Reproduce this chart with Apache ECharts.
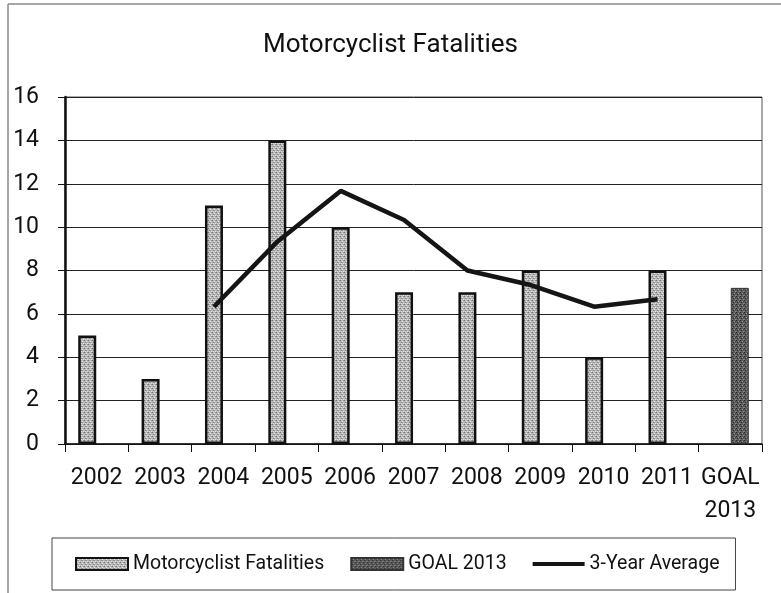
<!DOCTYPE html>
<html>
<head>
<meta charset="utf-8">
<script src="https://cdn.jsdelivr.net/npm/echarts@6/dist/echarts.min.js"></script>
<style>
html,body{margin:0;padding:0;background:#fff;}
#chart{width:781px;height:593px;}
</style>
</head>
<body>
<div id="chart"></div>
<script>
const categories = ['2002','2003','2004','2005','2006','2007','2008','2009','2010','2011','GOAL\n2013'];
const fatalities = [5,3,11,14,10,7,7,8,4,8,null];
const goal2013 = [null,null,null,null,null,null,null,null,null,null,7.2];
const threeYearAverage = [null,null,6.33,9.33,11.67,10.33,8,7.33,6.33,6.67,null];
const yMin = 0, yMax = 16, yInterval = 2;
const seriesNames = ['Motorcyclist Fatalities','GOAL 2013','3-Year Average'];

function makePattern(base, dots) {
  const c = document.createElement('canvas');
  c.width = 4; c.height = 4;
  const ctx = c.getContext('2d');
  ctx.fillStyle = base; ctx.fillRect(0,0,4,4);
  dots.forEach(d => { ctx.fillStyle = d[2]; ctx.fillRect(d[0], d[1], 1, 1); });
  return c;
}
const lightPat = makePattern('#b8b8b8', [[0,0,'#747474'],[2,1,'#ececec'],[1,2,'#858585'],[3,3,'#e2e2e2'],[3,0,'#9a9a9a'],[1,3,'#d8d8d8'],[2,2,'#969696']]);
const darkPat = makePattern('#5a5a5a', [[0,0,'#222'],[2,1,'#969696'],[1,2,'#2c2c2c'],[3,3,'#8a8a8a'],[3,1,'#424242'],[0,3,'#7a7a7a']]);

const FONT = 'Roboto';
const chart = echarts.init(document.getElementById('chart'), null, {renderer:'canvas'});
const gridLeft = 65, gridRight = 19, gridTop = 97, gridBottom = 149;
const barShift = 9.45;
const lineIcon = 'path://M0,0L0.01,0L0,0.01Z M0,4H52V8H0Z M0,12L0.01,12L0,11.99Z';

chart.setOption({
  animation: false,
  backgroundColor: '#fff',
  textStyle: {fontFamily: FONT, color: '#111'},
  title: {
    text: 'Motorcyclist Fatalities',
    left: 'center', top: 27,
    textStyle: {fontFamily: FONT, fontSize: 26, fontWeight: 'normal', color: '#111'}
  },
  legend: {
    left: 52, top: 538,
    padding: [16, 16, 16, 23],
    itemGap: 26, itemWidth: 52, itemHeight: 12,
    borderColor: '#444', borderWidth: 1,
    textStyle: {fontFamily: FONT, fontSize: 19.5, color: '#111'},
    data: [
      {name: seriesNames[0], icon: 'rect'},
      {name: seriesNames[1], icon: 'rect'},
      {name: seriesNames[2], icon: lineIcon, itemStyle: {color: '#151515', borderWidth: 0}}
    ]
  },
  grid: [
    {left: gridLeft, right: gridRight, top: gridTop, bottom: gridBottom, show: true, borderColor: '#555', borderWidth: 1, backgroundColor: 'transparent'},
    {left: gridLeft - barShift, right: gridRight + barShift, top: gridTop, bottom: gridBottom}
  ],
  xAxis: [
    {
      type: 'category', gridIndex: 0, data: categories,
      axisLine: {lineStyle: {color: '#111', width: 1.5}},
      axisTick: {show: true, length: 8, lineStyle: {color: '#111'}},
      axisLabel: {fontFamily: FONT, fontSize: 23, color: '#111', margin: 18, lineHeight: 33, interval: 0}
    },
    {
      type: 'category', gridIndex: 1, data: categories, show: false
    }
  ],
  yAxis: [
    {
      type: 'value', gridIndex: 0, min: yMin, max: yMax, interval: yInterval,
      axisLine: {show: true, lineStyle: {color: '#111', width: 2.5}},
      axisTick: {show: true, length: 7, lineStyle: {color: '#111'}},
      axisLabel: {fontFamily: FONT, fontSize: 23, color: '#111', margin: 26},
      splitLine: {lineStyle: {color: '#222', width: 1}}
    },
    {
      type: 'value', gridIndex: 1, min: yMin, max: yMax, interval: yInterval, show: false,
      splitLine: {show: false}
    }
  ],
  series: [
    {
      name: seriesNames[0], type: 'bar', xAxisIndex: 0, yAxisIndex: 0,
      data: fatalities, barWidth: 18, barGap: '5%',
      itemStyle: {color: {image: lightPat, repeat: 'repeat'}, borderColor: '#111', borderWidth: 2.5}
    },
    {
      name: seriesNames[1], type: 'bar', xAxisIndex: 0, yAxisIndex: 0,
      data: goal2013, barWidth: 18, barGap: '5%',
      itemStyle: {color: {image: darkPat, repeat: 'repeat'}, borderColor: '#333', borderWidth: 1}
    },
    {
      name: seriesNames[2], type: 'line', xAxisIndex: 1, yAxisIndex: 1,
      data: threeYearAverage, symbol: 'none', connectNulls: false,
      lineStyle: {color: '#151515', width: 4.5},
      itemStyle: {color: '#151515'}
    }
  ],
  graphic: [
    {type: 'line', shape: {x1: 8, y1: 4, x2: 781, y2: 4}, style: {stroke: '#888', lineWidth: 1.5}, silent: true},
    {type: 'line', shape: {x1: 8, y1: 4, x2: 8, y2: 593}, style: {stroke: '#888', lineWidth: 1.5}, silent: true}
  ]
});
</script>
</body>
</html>
